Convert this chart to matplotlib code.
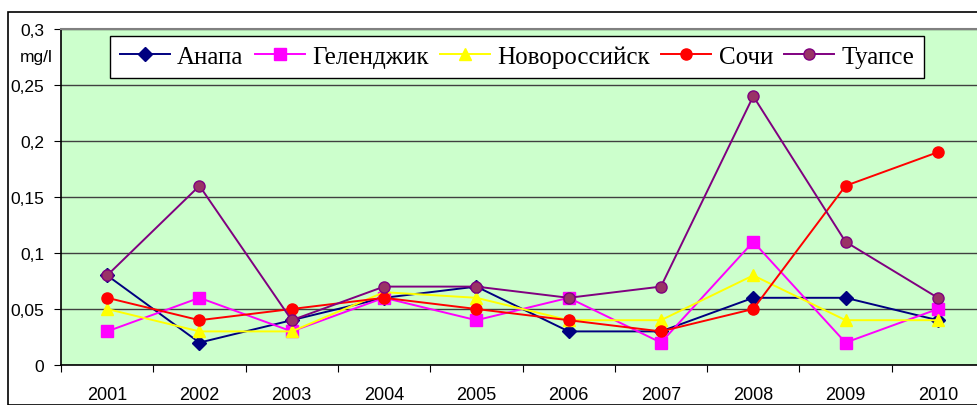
import matplotlib
matplotlib.use("Agg")
import matplotlib.pyplot as plt
from matplotlib.patches import Rectangle
from matplotlib.ticker import FuncFormatter, MultipleLocator

years = ["2001", "2002", "2003", "2004", "2005", "2006", "2007", "2008", "2009", "2010"]
anapa = [0.08, 0.02, 0.04, 0.06, 0.07, 0.03, 0.03, 0.06, 0.06, 0.04]
gelendzhik = [0.03, 0.06, 0.03, 0.06, 0.04, 0.06, 0.02, 0.11, 0.02, 0.05]
novoros = [0.05, 0.03, 0.03, 0.065, 0.06, 0.04, 0.04, 0.08, 0.04, 0.04]
sochi = [0.06, 0.04, 0.05, 0.06, 0.05, 0.04, 0.03, 0.05, 0.16, 0.19]
tuapse = [0.08, 0.16, 0.04, 0.07, 0.07, 0.06, 0.07, 0.24, 0.11, 0.06]
names = ["Анапа", "Геленджик", "Новороссийск", "Сочи", "Туапсе"]

W, H = 977, 406
fig = plt.figure(figsize=(W / 100, H / 100), dpi=100)
ax = fig.add_axes([61 / W, 1 - 366 / H, (984 - 61) / W, (366 - 30) / H])
ax.set_facecolor("#CCFFCC")

x = list(range(len(years)))
styles = [
    (anapa, dict(color="#000080", marker="D", markersize=7, markerfacecolor="#000080", markeredgecolor="#000080")),
    (gelendzhik, dict(color="#FF00FF", marker="s", markersize=8, markerfacecolor="#FF00FF", markeredgecolor="#FF00FF")),
    (novoros, dict(color="#FFFF00", marker="^", markersize=9, markerfacecolor="#FFFF00", markeredgecolor="#FFFF00")),
    (sochi, dict(color="#FF0000", marker="o", markersize=8, markerfacecolor="#FF0000", markeredgecolor="#FF0000")),
    (tuapse, dict(color="#800080", marker="o", markersize=8, markerfacecolor="#993366", markeredgecolor="#800080")),
]
for (vals, st), name in zip(styles, names):
    ax.plot(x, vals, linewidth=1.4, label=name, **st)

ax.set_xlim(-0.5, len(years) - 0.5)
ax.set_ylim(0, 0.3)
ax.yaxis.set_major_locator(MultipleLocator(0.05))
ax.yaxis.set_major_formatter(FuncFormatter(lambda v, p: ("%g" % round(v, 2)).replace(".", ",")))
ax.grid(axis="y", color="#404040", linewidth=1)
ax.set_axisbelow(True)

ax.set_xticks([i + 0.5 for i in range(-1, len(years))], minor=False)
ax.set_xticklabels([])
ax.set_xticks(x, minor=True)
ax.set_xticklabels(years, minor=True)
ax.tick_params(axis="x", which="major", length=5, direction="out", color="black")
ax.tick_params(axis="x", which="minor", length=0, pad=15, labelsize=13)
ax.tick_params(axis="y", length=5, direction="out", labelsize=12.5, pad=7)
for lab in ax.get_xticklabels(minor=True) + ax.get_yticklabels():
    lab.set_fontfamily("Liberation Sans")

for s in ["left", "bottom"]:
    ax.spines[s].set_color("black")
    ax.spines[s].set_linewidth(1.2)
ax.spines["top"].set_color("#808080")
ax.spines["top"].set_linewidth(1.5)
ax.spines["right"].set_color("#808080")

fig.text(53 / W, 1 - 58 / H, "mg/l", ha="right", va="center", fontsize=12.5, family="Liberation Sans")

leg = ax.legend(loc="upper left", bbox_to_anchor=(110 / W, 1 - 37 / H),
                bbox_transform=fig.transFigure, borderaxespad=0, ncol=5, frameon=True, fancybox=False,
                edgecolor="black", framealpha=1, prop={"family": "Liberation Serif", "size": 18},
                handlelength=2.0, handletextpad=0.3, columnspacing=0.45, borderpad=0.38)
leg.get_frame().set_linewidth(1.0)

fig.patches.append(Rectangle((8 / W, 0), 1.2, 1 - 13 / H, transform=fig.transFigure,
                             fill=False, edgecolor="black", linewidth=1.2))

fig.savefig("out.png", dpi=100, facecolor="white")
